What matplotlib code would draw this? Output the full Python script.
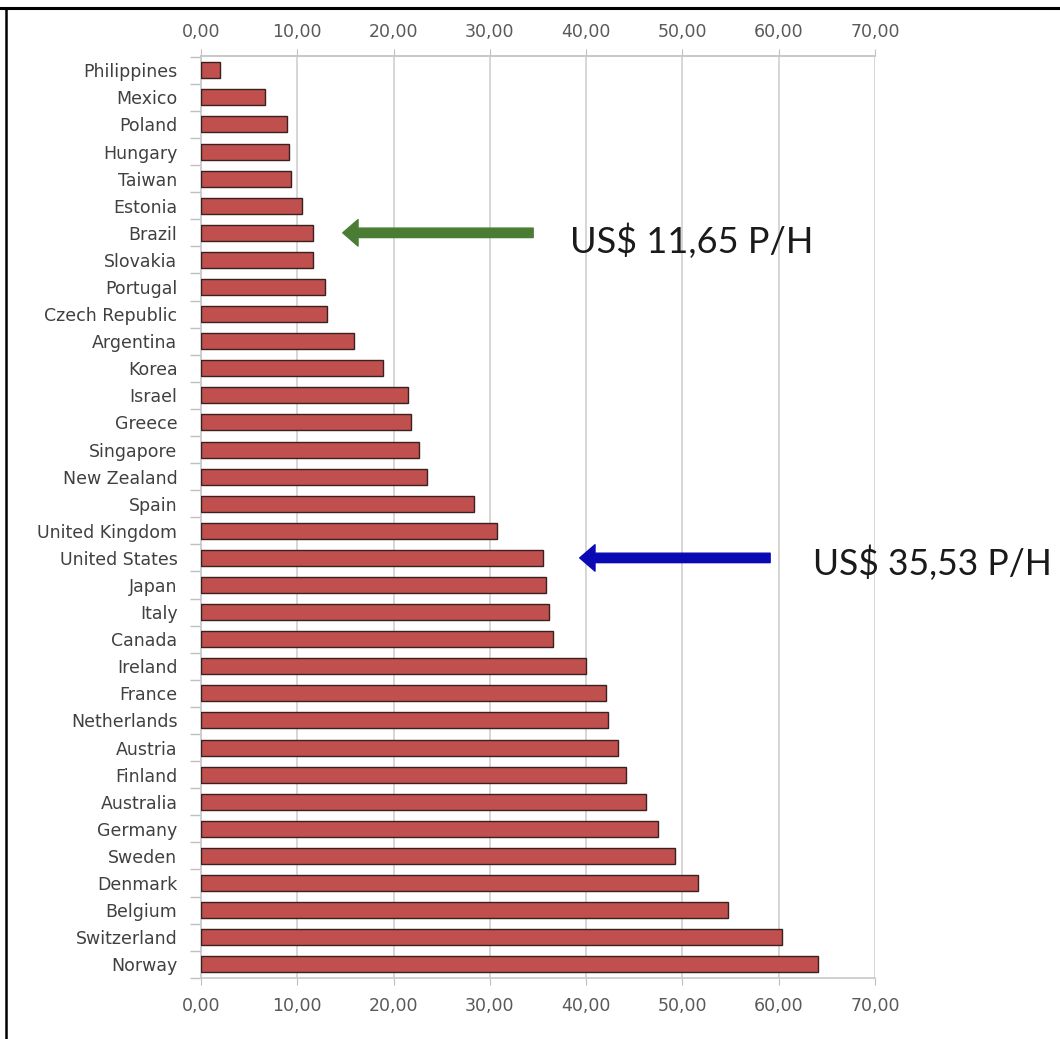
import matplotlib
matplotlib.use("Agg")
import matplotlib.pyplot as plt
from matplotlib.ticker import FuncFormatter, FixedLocator
from matplotlib.lines import Line2D
from matplotlib.patches import FancyArrowPatch

countries = ["Philippines", "Mexico", "Poland", "Hungary", "Taiwan", "Estonia",
             "Brazil", "Slovakia", "Portugal", "Czech Republic", "Argentina",
             "Korea", "Israel", "Greece", "Singapore", "New Zealand", "Spain",
             "United Kingdom", "United States", "Japan", "Italy", "Canada",
             "Ireland", "France", "Netherlands", "Austria", "Finland",
             "Australia", "Germany", "Sweden", "Denmark", "Belgium",
             "Switzerland", "Norway"]
values = [2.01, 6.60, 8.96, 9.17, 9.38, 10.54, 11.65, 11.60, 12.93, 13.10,
          15.87, 18.89, 21.45, 21.84, 22.68, 23.42, 28.37, 30.79, 35.53,
          35.78, 36.15, 36.53, 39.94, 42.09, 42.27, 43.28, 44.09, 46.24,
          47.43, 49.21, 51.62, 54.78, 60.33, 64.12]
x_ticks = [0, 10, 20, 30, 40, 50, 60, 70]
annot_low = "US$ 11,65 P/H"
annot_us = "US$ 35,53 P/H"

W, H = 1060, 1039
fig = plt.figure(figsize=(W / 100, H / 100), dpi=100)
fig.patch.set_facecolor("white")
ax = fig.add_axes([201 / W, 1 - 977.8 / H, (875 - 201) / W, (977.8 - 55.8) / H])

ypos = list(range(len(countries)))
ax.barh(ypos, values, height=0.59, color="#C0504D", edgecolor="#3a2020",
        linewidth=1.0, zorder=3)

fmt = FuncFormatter(lambda v, p: f"{v:.2f}".replace(".", ","))
ax.set_xlim(0, 70)
ax.set_ylim(33.47, -0.535)
ax.xaxis.set_major_locator(FixedLocator(x_ticks))
ax.xaxis.set_major_formatter(fmt)
ax.tick_params(axis="x", which="major", top=False, bottom=True,
               labelbottom=True, length=5, color="#bfbfbf", labelsize=12.5,
               labelcolor="#595959", pad=8.5)

sec = ax.secondary_xaxis("top")
sec.xaxis.set_major_locator(FixedLocator(x_ticks))
sec.xaxis.set_major_formatter(fmt)
sec.tick_params(axis="x", length=5, color="#bfbfbf", labelsize=12.5,
                labelcolor="#595959", pad=5.5)
sec.spines["top"].set_color("#c8c8c8")
sec.spines["top"].set_linewidth(1.2)

ax.set_yticks(ypos)
ax.set_yticklabels(countries)
ax.set_yticks([i - 0.5 for i in range(len(countries) + 1)], minor=True)
ax.tick_params(axis="y", which="major", length=0, pad=17, labelsize=12.5,
               labelcolor="#404040")
ax.tick_params(axis="y", which="minor", length=8, color="#bfbfbf", width=1)
for lab in ax.get_xticklabels() + ax.get_yticklabels() + sec.get_xticklabels():
    lab.set_family("DejaVu Sans")

ax.grid(axis="x", color="#d0d0d0", linewidth=1.2, zorder=0)
ax.set_axisbelow(True)
ax.spines["right"].set_visible(False)
for side in ["top", "bottom", "left"]:
    ax.spines[side].set_color("#c8c8c8")
    ax.spines[side].set_linewidth(1.2)

# arrows (data coordinates)
px = 9.63  # pixels per unit
def arrow(x0, x1, y, color):
    a = FancyArrowPatch((x0, y), (x1, y),
                        arrowstyle="simple,head_length=11,head_width=19,tail_width=6.8",
                        mutation_scale=1, color=color, zorder=5, clip_on=False)
    ax.add_patch(a)

i_br = countries.index("Brazil")
i_us = countries.index("United States")
arrow((536 - 201) / px, (340 - 201) / px, i_br, "#4a7d33")
arrow((773 - 201) / px, (577 - 201) / px, i_us, "#0a0ab4")

fig.text(570 / W, 1 - 253 / H, annot_low, fontsize=26, family="Lato",
         color="#1a1a1a", va="baseline", ha="left")
fig.text(813 / W, 1 - 575 / H, annot_us, fontsize=25.6, family="Lato",
         color="#1a1a1a", va="baseline", ha="left")

# outer frame (top and left edges)
fig.add_artist(Line2D([0, 1], [1 - 7.8 / H, 1 - 7.8 / H], color="black", linewidth=2.2,
                      transform=fig.transFigure))
fig.add_artist(Line2D([6.3 / W, 6.3 / W], [0, 1 - 7.8 / H], color="black", linewidth=1.8,
                      transform=fig.transFigure))

fig.savefig("out.png", dpi=100)
